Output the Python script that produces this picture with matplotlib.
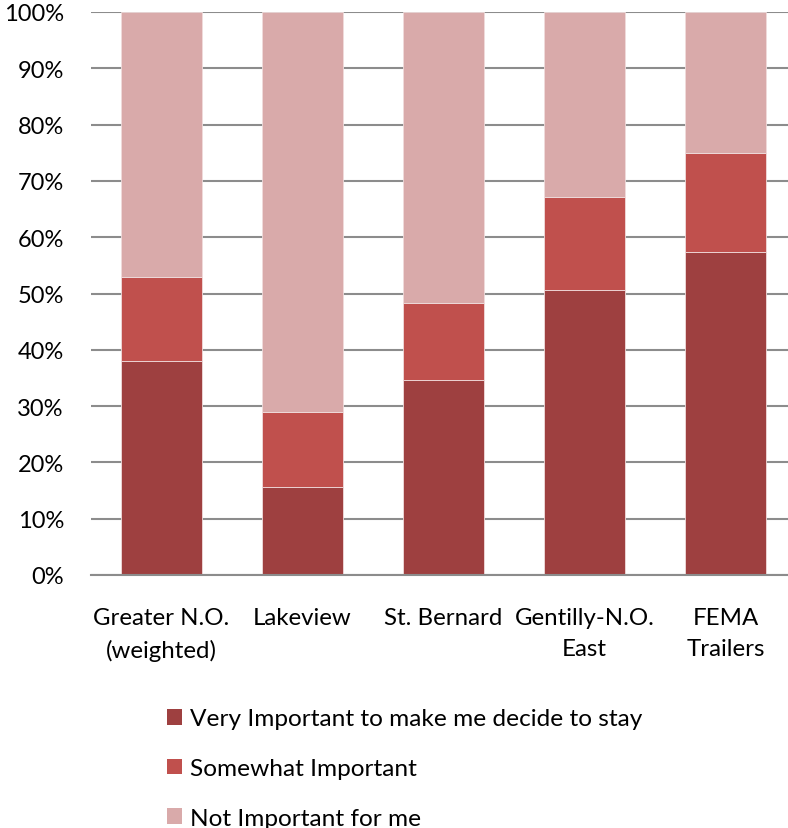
import numpy as np
import matplotlib.pyplot as plt
from matplotlib.patches import Patch

plt.rcParams['font.family'] = ['Lato', 'DejaVu Sans']

categories = ['Greater N.O.\n(weighted)', 'Lakeview', 'St. Bernard', 'Gentilly-N.O.\nEast', 'FEMA\nTrailers']
very = [38.0, 15.7, 34.6, 50.6, 57.4]
somewhat = [15.0, 13.3, 13.7, 16.5, 17.6]
not_imp = [100 - v - s for v, s in zip(very, somewhat)]
labels = ['Very Important to make me decide to stay', 'Somewhat Important', 'Not Important for me']
colors = ['#9E4040', '#C0504D', '#D9AAAA']

fig = plt.figure(figsize=(7.88, 8.29), dpi=100)
ax = fig.add_axes([91/788, 1-576/829, 705/788, (576-13)/829])

x = np.arange(len(categories))
bottom = np.zeros(len(categories))
for vals, col in zip([very, somewhat, not_imp], colors):
    ax.bar(x, vals, width=0.57, bottom=bottom, color=col, edgecolor='#f0dcdc', linewidth=0.6, zorder=2)
    bottom += np.array(vals)

ax.set_xlim(-0.5, len(categories) - 0.5)
ax.set_ylim(0, 100)
ax.set_yticks(np.arange(0, 101, 10))
ax.set_yticklabels([f'{t}%' for t in range(0, 101, 10)], fontsize=17)
ax.set_xticks(x)
ax.set_xticklabels(categories, fontsize=17.3, linespacing=1.62)
ax.tick_params(axis='y', length=0, pad=19.5)
ax.tick_params(axis='x', length=0, pad=23)
ax.grid(axis='y', color='#8c8c8c', linewidth=1.5, zorder=0)
for s in ['top', 'right', 'left']:
    ax.spines[s].set_visible(False)
ax.spines['bottom'].set_color('#8c8c8c')
ax.spines['bottom'].set_linewidth(1.5)

handles = [Patch(facecolor=c, edgecolor='none') for c in colors]
fig.legend(handles, labels, loc='upper left', bbox_to_anchor=(155/788, 1-697/829),
           frameon=False, fontsize=17.6, handlelength=0.62, handleheight=0.62,
           handletextpad=0.3, labelspacing=1.18, borderpad=0)

fig.savefig('out.png', dpi=100)
